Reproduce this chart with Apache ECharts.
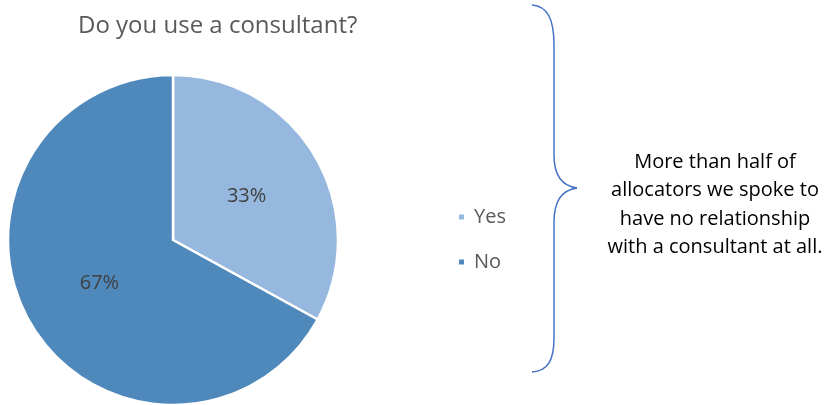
<!DOCTYPE html>
<html>
<head>
<meta charset="utf-8">
<script src="https://cdn.jsdelivr.net/npm/echarts@6/dist/echarts.min.js"></script>
<style>
html,body{margin:0;padding:0;background:#fff;}
#chart{width:835px;height:405px;}
</style>
</head>
<body>
<div id="chart"></div>
<script>
// Survey answers and their shares (percent)
var answers = ['Yes', 'No'];
var shares = [33, 67];
var sliceColors = ['#96B8DE', '#4F89BC'];
var titleText = 'Do you use a consultant?';
var noteLines = ['More than half of', 'allocators we spoke to', 'have no relationship', 'with a consultant at all.'];

var FONT = '"Open Sans", "Noto Sans", sans-serif';
var BRACE = { stroke: '#4472C4', lineWidth: 1.5, fill: null };

var chart = echarts.init(document.getElementById('chart'), null, { renderer: 'canvas' });

var pieData = answers.map(function (name, i) {
  return { name: name, value: shares[i], itemStyle: { color: sliceColors[i] } };
});

function curve(x1, y1, cx1, cy1, cx2, cy2, x2, y2) {
  return { type: 'bezierCurve', shape: { x1: x1, y1: y1, cpx1: cx1, cpy1: cy1, cpx2: cx2, cpy2: cy2, x2: x2, y2: y2 }, style: BRACE };
}
function seg(x1, y1, x2, y2) {
  return { type: 'line', shape: { x1: x1, y1: y1, x2: x2, y2: y2 }, style: BRACE };
}

chart.setOption({
  animation: false,
  backgroundColor: '#ffffff',
  title: {
    text: titleText,
    left: 73,
    top: 9,
    textStyle: { fontFamily: FONT, fontSize: 24, fontWeight: 'normal', color: '#595959' }
  },
  legend: {
    orient: 'vertical',
    left: 457,
    top: 206,
    padding: 0,
    itemWidth: 7,
    itemHeight: 7,
    itemGap: 23,
    icon: 'rect',
    data: answers,
    textStyle: { fontFamily: FONT, fontSize: 20, lineHeight: 22, color: '#595959', padding: [0, 0, 0, 4] }
  },
  series: [{
    type: 'pie',
    center: [173, 240],
    radius: [0, 165],
    startAngle: 90,
    clockwise: true,
    data: pieData,
    itemStyle: { borderColor: '#ffffff', borderWidth: 2.5 },
    label: {
      show: true,
      position: 'inside',
      formatter: '{c}%',
      fontFamily: FONT,
      fontSize: 20,
      color: '#404040'
    },
    labelLine: { show: false },
    emphasis: { disabled: true }
  }],
  graphic: [
    // right-hand curly brace grouping the chart
    curve(532, 5, 548, 6, 554, 20, 554, 45),
    seg(554, 45, 554, 155),
    curve(554, 155, 554, 175, 562, 186, 577, 188),
    curve(577, 188, 562, 190, 554, 201, 554, 222),
    seg(554, 222, 554, 338),
    curve(554, 338, 554, 360, 548, 371, 532, 372),
    {
      type: 'text',
      x: 715,
      y: 148,
      style: {
        text: noteLines.join('\n'),
        fontFamily: FONT,
        fontSize: 20,
        lineHeight: 28.5,
        fill: '#000000',
        align: 'center'
      }
    }
  ]
});
</script>
</body>
</html>
